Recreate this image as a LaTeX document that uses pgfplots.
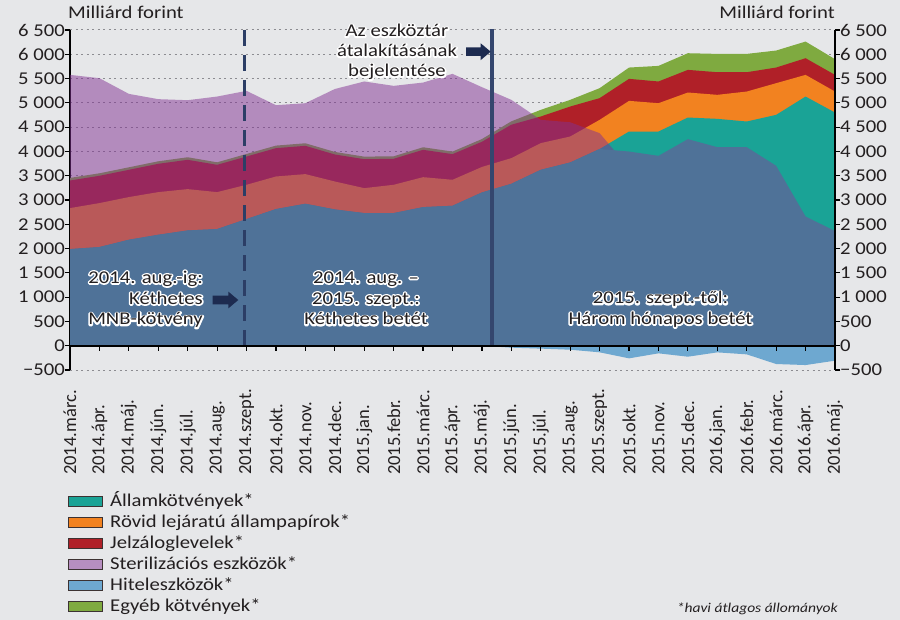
\documentclass[border=0pt]{standalone}
\usepackage{fontspec}
\setmainfont{Carlito}[FakeStretch=1.15]
\newfontfamily\xfont{Carlito}
\usepackage{pgfplots}
\pgfplotsset{compat=1.18}
\usepackage{pgfplotstable}
\definecolor{bgc}{RGB}{230,231,233}
\definecolor{cblue}{RGB}{79,114,152}
\definecolor{cteal}{RGB}{26,163,150}
\definecolor{corange}{RGB}{242,130,32}
\definecolor{cred}{RGB}{176,32,40}
\definecolor{cgreen}{RGB}{127,170,64}
\definecolor{clblue}{RGB}{110,168,208}
\definecolor{clilac}{RGB}{130,49,147}
\definecolor{clilacleg}{RGB}{182,142,192}
\definecolor{cnavy}{RGB}{29,43,80}
\definecolor{cline}{RGB}{44,62,102}
\definecolor{csolid}{RGB}{52,70,110}
\definecolor{txt}{RGB}{35,31,32}
\definecolor{gridc}{RGB}{140,140,145}

\pgfplotstableread{
i B T O R G L N
0 1989 1989 2833 3401 3455 5576 0
1 2031 2031 2936 3498 3550 5508 0
2 2181 2181 3060 3621 3673 5185 0
3 2284 2284 3162 3745 3797 5076 0
4 2373 2373 3224 3827 3880 5055 0
5 2401 2401 3162 3724 3776 5130 0
6 2607 2607 3313 3895 3948 5247 0
7 2813 2813 3484 4067 4120 4952 0
8 2922 2922 3533 4115 4168 4993 0
9 2805 2805 3381 3937 3990 5285 0
10 2730 2730 3244 3840 3893 5440 0
11 2730 2730 3313 3848 3900 5350 0
12 2853 2853 3470 4033 4086 5418 0
13 2881 2881 3416 3944 3997 5597 0
14 3155 3155 3680 4198 4255 5323 0
15 3333 3333 3862 4550 4620 5062 -40
16 3621 3621 4171 4719 4856 4650 -60
17 3772 3772 4307 4924 5062 4600 -82
18 4050 4050 4650 5097 5302 4376 -136
19 3998 4410 5041 5494 5727 3659 -260
20 3909 4410 4993 5440 5761 0 -157
21 4253 4698 5213 5679 6022 0 -226
22 4088 4671 5165 5631 6008 0 -137
23 4088 4616 5233 5631 6008 0 -178
24 3704 4753 5405 5727 6077 0 -377
25 2661 5130 5576 5919 6262 0 -398
26 2360 4801 5233 5576 5899 0 -308
}\data

\newcommand{\tf}{\fontsize{18bp}{21bp}\selectfont}
% white halo: stroked white copy under the text
\newcommand{\halo}[1]{\leavevmode\rlap{\textcolor{white}{\special{pdf:literal direct 3 w 1 j 1 1 1 RG 2 Tr}#1\special{pdf:literal direct 0 Tr}}}#1}

\begin{document}
\begin{tikzpicture}
\path[use as bounding box] (-70bp,-250bp) rectangle (830bp,370bp);
\fill[bgc] (-70bp,-250bp) rectangle (830bp,370bp);

\begin{axis}[
  scale only axis, width=765bp, height=340bp,
  xmin=0, xmax=26, ymin=-500, ymax=6500,
  axis y line*=left, axis x line*=bottom,
  x axis line style={draw=none},
  y axis line style={line width=1.6bp, black, -},
  xtick={0,...,26},
  xticklabels={2014.márc.,2014.ápr.,2014.máj.,2014.jún.,2014.júl.,2014.aug.,2014.szept.,2014.okt.,2014.nov.,2014.dec.,2015.jan.,2015.febr.,2015.márc.,2015.ápr.,2015.máj.,2015.jún.,2015.júl.,2015.aug.,2015.szept.,2015.okt.,2015.nov.,2015.dec.,2016.jan.,2016.febr.,2016.márc.,2016.ápr.,2016.máj.},
  xtick style={draw=none},
  xticklabel style={font=\xfont\fontsize{18.5bp}{18.5bp}\selectfont, yshift=-100bp, rotate=90, anchor=west, inner sep=0pt, text=txt},
  ytick={-500,0,500,1000,1500,2000,2500,3000,3500,4000,4500,5000,5500,6000,6500},
  yticklabels={−500,0,500,{1 000},{1 500},{2 000},{2 500},{3 000},{3 500},{4 000},{4 500},{5 000},{5 500},{6 000},{6 500}},
  yticklabel style={font=\tf, inner sep=0pt, text=txt},
  ytick style={line width=1.2bp, black},
  tick align=outside, major tick length=5bp,
  ymajorgrids, grid style={gridc, line width=1bp, dash pattern=on 2bp off 3.5bp},
  /pgf/number format/assume math mode=true,
]
\addplot[fill=cgreen, draw=none] table[x=i,y=G]{\data} \closedcycle;
\addplot[fill=cred, draw=none] table[x=i,y=R]{\data} \closedcycle;
\addplot[fill=corange, draw=none] table[x=i,y=O]{\data} \closedcycle;
\addplot[fill=cteal, draw=none] table[x=i,y=T]{\data} \closedcycle;
\addplot[fill=clilac, fill opacity=0.5, draw=none] table[x=i,y=L]{\data} \closedcycle;
\addplot[fill=cblue, draw=none] table[x=i,y=B]{\data} \closedcycle;
\addplot[fill=clblue, draw=none] table[x=i,y=N]{\data} \closedcycle;
\draw[cline, line width=3.2bp, dash pattern=on 16bp off 9bp] (axis cs:5.93,6500) -- (axis cs:5.93,0);
\draw[csolid, line width=4bp] (axis cs:14.33,6520) -- (axis cs:14.33,0);
\end{axis}

\begin{axis}[
  scale only axis, width=765bp, height=340bp,
  xmin=0, xmax=26, ymin=-500, ymax=6500,
  axis y line*=right, hide x axis,
  y axis line style={line width=1.6bp, black, -},
  ytick={-500,0,500,1000,1500,2000,2500,3000,3500,4000,4500,5000,5500,6000,6500},
  yticklabels={−500,0,500,{1 000},{1 500},{2 000},{2 500},{3 000},{3 500},{4 000},{4 500},{5 000},{5 500},{6 000},{6 500}},
  yticklabel style={font=\tf, inner sep=0pt, text=txt},
  ytick style={line width=1.2bp, black},
  tick align=outside, major tick length=5bp,
]
\addplot[draw=none] coordinates {(0,0)};
\end{axis}

% zero line with ticks
\draw[black, line width=1.6bp] (0,24.2857bp) -- (765bp,24.2857bp);
\foreach \k in {0,...,26} {\draw[black, line width=1.2bp] ({\k*29.4231bp},24.2857bp) -- ++(0,-5bp);}

% arrows
\fill[cnavy] (142.7bp,65.7bp) -- (158.3bp,65.7bp) -- (158.3bp,61.6bp) -- (168.3bp,70bp) -- (158.3bp,78.4bp) -- (158.3bp,74.3bp) -- (142.7bp,74.3bp) -- cycle;
\fill[cnavy] (396bp,314bp) -- (410.7bp,314bp) -- (410.7bp,309.9bp) -- (420.7bp,318.3bp) -- (410.7bp,326.7bp) -- (410.7bp,322.6bp) -- (396bp,322.6bp) -- cycle;

% annotations
\begin{scope}[every node/.style={font=\tf, text=txt, inner sep=0pt}]
\node[anchor=base east] at (133bp,86.7bp) {\halo{2014. aug.-ig:}};
\node[anchor=base east] at (133bp,65.7bp) {\halo{Kéthetes}};
\node[anchor=base east] at (133bp,45bp) {\halo{MNB-kötvény}};
\node[anchor=base] at (296bp,86.7bp) {\halo{2014. aug. –}};
\node[anchor=base] at (296bp,65.7bp) {\halo{2015. szept.:}};
\node[anchor=base] at (296bp,45bp) {\halo{Kéthetes betét}};
\node[anchor=base] at (590.5bp,66bp) {\halo{2015. szept.-től:}};
\node[anchor=base] at (590.5bp,45.5bp) {\halo{Három hónapos betét}};
\node[anchor=base] at (327bp,333.3bp) {\halo{Az eszköztár}};
\node[anchor=base] at (327bp,313.3bp) {\halo{átalakításának}};
\node[anchor=base] at (327bp,293.3bp) {\halo{bejelentése}};
\node[anchor=base west] at (-2bp,351bp) {Milliárd forint};
\node[anchor=base east] at (765bp,351bp) {Milliárd forint};
% legend
\foreach \c/\t [count=\r from 0] in {cteal/Államkötvények*,corange/Rövid lejáratú állampapírok*,cred/Jelzáloglevelek*,clilacleg/Sterilizációs eszközök*,clblue/Hiteleszközök*,cgreen/Egyéb kötvények*} {
  \fill[\c, draw={rgb,255:red,60;green,50;blue,50}, line width=0.8bp] (-1.7bp,{-136.7bp-\r*21bp}) rectangle (32.7bp,{-126.7bp-\r*21bp});
  \node[anchor=base west] at (40bp,{-136.7bp-\r*21bp}) {\t};
}
\node[anchor=base east, font=\itshape\fontsize{13.5bp}{15bp}\selectfont] at (768bp,-242bp) {*havi átlagos állományok};
\end{scope}
\end{tikzpicture}
\end{document}
